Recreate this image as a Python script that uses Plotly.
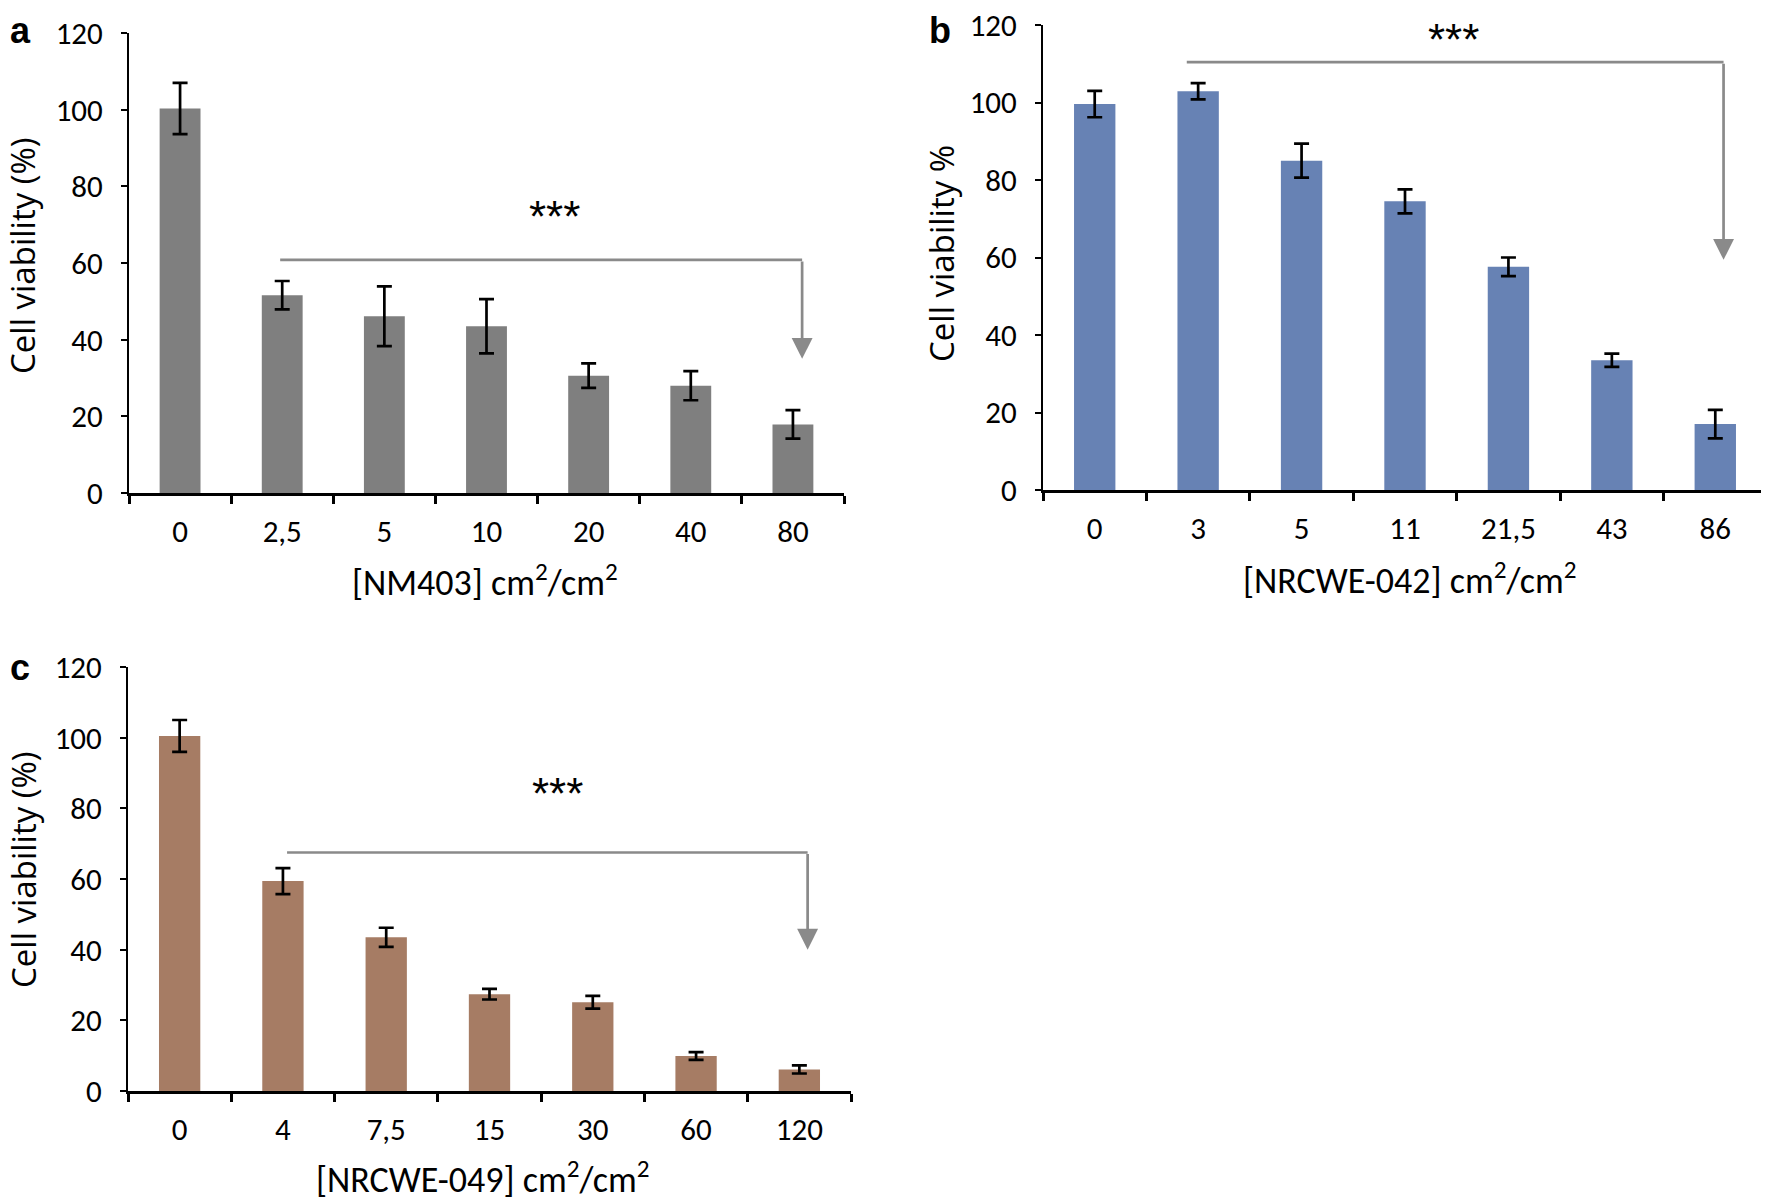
import plotly.graph_objects as go

# ---------------- data ----------------
cats_a = ["0", "2,5", "5", "10", "20", "40", "80"]
vals_a = [100.3, 51.6, 46.1, 43.5, 30.6, 28.0, 17.9]
errs_a = [6.7, 3.7, 7.8, 7.1, 3.2, 3.8, 3.7]

cats_b = ["0", "3", "5", "11", "21,5", "43", "86"]
vals_b = [99.6, 102.9, 85.0, 74.5, 57.6, 33.5, 17.0]
errs_b = [3.4, 2.1, 4.4, 3.1, 2.4, 1.7, 3.7]

cats_c = ["0", "4", "7,5", "15", "30", "60", "120"]
vals_c = [100.5, 59.4, 43.5, 27.4, 25.1, 9.9, 6.1]
errs_c = [4.5, 3.7, 2.7, 1.5, 1.8, 1.1, 1.15]

y_ticks = [0, 20, 40, 60, 80, 100, 120]

# ---------------- styling ----------------
SCREEN_W, SCREEN_H = 1769, 1203
OFF = 8  # default page body margin
W, H = SCREEN_W - OFF, SCREEN_H - OFF
NARROW = "Carlito, 'Liberation Sans Narrow', 'Arial Narrow', 'Liberation Sans', sans-serif"
TICK_FONT = dict(family=NARROW, size=31, color="black")
XTITLE_FONT = dict(family=NARROW, size=36, color="black")
YTITLE_FONT = dict(family="'Open Sans', 'Lato', sans-serif", size=33, color="black")
LABEL_FONT = dict(family="'Liberation Sans', Arial, sans-serif", size=36, color="black")
STAR_FONT = dict(family="'Liberation Sans', Arial, sans-serif", size=44, color="black")
ARROW_COLOR = "#8A8A8A"

def fx(px):
    return (px - OFF) / W

def fy(py):
    return 1 - (py - OFF) / H

panels = [
    dict(cats=cats_a, vals=vals_a, errs=errs_a, color="#7F7F7F", xa="x", ya="y",
         xdom=[fx(129), fx(844)], ydom=[fy(493), fy(33)],
         xtitle="[NM403] cm<sup>2</sup>/cm<sup>2</sup>", xtitle_pos=(485, 580),
         ytitle="Cell viability (%)", ytitle_pos=(23, 256),
         label="a", label_pos=(8, 8),
         arrow=dict(x0=0.98, x1=6.09, y=60.8, tip=35.0), stars=(3.67, 74.3)),
    dict(cats=cats_b, vals=vals_b, errs=errs_b, color="#6782B4", xa="x2", ya="y2",
         xdom=[fx(1043), fx(1767)], ydom=[fy(490), fy(25)],
         xtitle="[NRCWE-042] cm<sup>2</sup>/cm<sup>2</sup>", xtitle_pos=(1410, 579),
         ytitle="Cell viability %", ytitle_pos=(942, 254),
         label="b", label_pos=(927, 8),
         arrow=dict(x0=0.89, x1=6.08, y=110.4, tip=59.4), stars=(3.47, 118.3)),
    dict(cats=cats_c, vals=vals_c, errs=errs_c, color="#A67C64", xa="x3", ya="y3",
         xdom=[fx(128), fx(851)], ydom=[fy(1091), fy(667)],
         xtitle="[NRCWE-049] cm<sup>2</sup>/cm<sup>2</sup>", xtitle_pos=(483, 1177),
         ytitle="Cell viability (%)", ytitle_pos=(23, 870),
         label="c", label_pos=(8, 645),
         arrow=dict(x0=1.04, x1=6.08, y=67.5, tip=40.0), stars=(3.66, 86.4)),
]

fig = go.Figure()
layout = dict(width=W, height=H, margin=dict(l=0, r=0, t=0, b=0, pad=0, autoexpand=False),
              paper_bgcolor="white", plot_bgcolor="white", showlegend=False)
annotations = []
shapes = []

for p in panels:
    fig.add_trace(go.Bar(
        x=p["cats"], y=p["vals"], marker=dict(color=p["color"], line=dict(width=0)),
        error_y=dict(type="data", array=p["errs"], color="black", thickness=2.7, width=7.5),
        xaxis=p["xa"], yaxis=p["ya"], width=0.40,
    ))
    xkey = "xaxis" + p["xa"][1:]
    ykey = "yaxis" + p["ya"][1:]
    layout[xkey] = dict(domain=p["xdom"], anchor=p["ya"], type="category",
                        categoryorder="array", categoryarray=p["cats"],
                        range=[-0.5, 6.5], showline=True, linecolor="black", linewidth=2.7,
                        ticks="outside", tickson="boundaries", ticklen=8, tickwidth=2.5,
                        tickcolor="black", tickfont=TICK_FONT, showgrid=False, zeroline=False,
                        ticklabelstandoff=9, ticklabeloverflow="allow",
                        fixedrange=True, automargin=False)
    layout[ykey] = dict(domain=p["ydom"], anchor=p["xa"], range=[0, 120],
                        tickvals=y_ticks, showline=True, linecolor="black", linewidth=2,
                        ticks="outside", ticklen=6, tickwidth=2, tickcolor="black",
                        tickfont=TICK_FONT, showgrid=False, zeroline=False,
                        ticklabelstandoff=12, ticklabeloverflow="allow",
                        fixedrange=True, automargin=False)
    a = p["arrow"]
    xr, yr = p["xa"], p["ya"]
    shapes.append(dict(type="line", xref=xr, yref=yr, x0=a["x0"], x1=a["x1"], y0=a["y"], y1=a["y"],
                       line=dict(color=ARROW_COLOR, width=2.7)))
    annotations.append(dict(xref=xr, yref=yr, axref=xr, ayref=yr, x=a["x1"], y=a["tip"],
                            ax=a["x1"], ay=a["y"], text="", showarrow=True, arrowhead=2,
                            arrowsize=1.55, arrowwidth=2.7, arrowcolor=ARROW_COLOR, standoff=0))
    sx, sy = p["stars"]
    annotations.append(dict(xref=xr, yref=yr, x=sx, y=sy, text="***", showarrow=False,
                            font=STAR_FONT, xanchor="center", yanchor="middle", yshift=-8))
    tx, ty = p["xtitle_pos"]
    annotations.append(dict(xref="paper", yref="paper", x=fx(tx), y=fy(ty), text=p["xtitle"],
                            showarrow=False, font=XTITLE_FONT, xanchor="center", yanchor="middle"))
    vx, vy = p["ytitle_pos"]
    annotations.append(dict(xref="paper", yref="paper", x=fx(vx), y=fy(vy), text=p["ytitle"],
                            showarrow=False, font=YTITLE_FONT, textangle=-90,
                            xanchor="center", yanchor="middle"))
    lx, ly = p["label_pos"]
    annotations.append(dict(xref="paper", yref="paper", x=fx(lx), y=fy(ly),
                            text="<b>" + p["label"] + "</b>", showarrow=False, font=LABEL_FONT,
                            xanchor="left", yanchor="top"))

layout["annotations"] = annotations
layout["shapes"] = shapes
fig.update_layout(**layout)
fig.write_html("out.html")
